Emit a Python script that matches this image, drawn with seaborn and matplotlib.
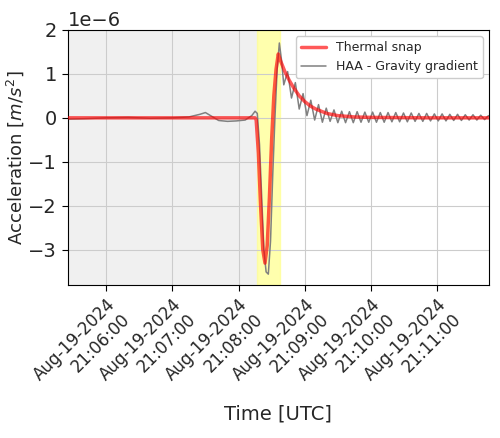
import pandas as pd
import matplotlib.pyplot as plt
import matplotlib.dates as mdates
import seaborn as sns

# seconds after 21:05:00 UTC, acceleration in units of 1e-6 m/s^2
snap_t = [25, 195, 196, 198, 200, 202, 204, 206, 208, 210, 212, 214, 216, 218, 222,
          226, 230, 235, 240, 245, 250, 260, 270, 285, 300, 350, 407]
snap_a = [0, 0, -0.05, -0.8, -2.0, -3.0, -3.3, -2.9, -1.8, -0.5, 0.5, 1.1, 1.45, 1.3, 1.05,
          0.85, 0.68, 0.5, 0.37, 0.27, 0.2, 0.1, 0.05, 0.02, 0.01, 0, 0]

haa_t = [25, 40, 60, 80, 100, 120, 135, 145, 150, 156, 162, 170, 178, 186, 192, 195, 197,
         199, 201, 203, 205, 207, 209, 211, 213, 215, 217, 219,
         221, 224.5, 228, 231.5, 235, 238.5, 242, 245.5, 249, 252.5, 256, 259.5, 263, 266.5,
         270, 273.5, 277, 280.5, 284, 287.5, 291, 294.5, 298, 301.5, 305, 308.5, 312, 315.5,
         319, 322.5, 326, 329.5, 333, 336.5, 340, 343.5, 347, 350.5, 354, 357.5, 361, 364.5,
         368, 371.5, 375, 378.5, 382, 385.5, 389, 392.5, 396, 399.5, 403, 406.5]
haa_a = [-0.03, -0.02, 0.0, 0.01, -0.01, 0.0, 0.02, 0.08, 0.12, 0.03, -0.06, -0.08, -0.07, -0.05, 0.05, 0.15, 0.1,
         -0.6, -1.8, -3.0, -3.5, -3.55, -2.8, -1.3, 0.0, 1.1, 1.7, 1.3,
         0.75, 1.05, 0.45, 0.8, 0.2, 0.55, 0.05, 0.4, -0.05, 0.3, -0.1, 0.22, -0.08, 0.18,
         -0.11, 0.15, -0.11, 0.14, -0.11, 0.14, -0.1, 0.13, -0.1, 0.13, -0.1, 0.12, -0.1, 0.12,
         -0.09, 0.12, -0.09, 0.11, -0.09, 0.11, -0.08, 0.1, -0.08, 0.1, -0.07, 0.09, -0.07, 0.09,
         -0.07, 0.08, -0.06, 0.08, -0.06, 0.07, -0.05, 0.07, -0.05, 0.06, -0.04, 0.05]

t0 = pd.Timestamp("2024-08-19 21:05:00")
snap = pd.DataFrame({"time": t0 + pd.to_timedelta(snap_t, unit="s"), "acc": [v * 1e-6 for v in snap_a]})
haa = pd.DataFrame({"time": t0 + pd.to_timedelta(haa_t, unit="s"), "acc": [v * 1e-6 for v in haa_a]})

sns.set_style("whitegrid")
plt.rcParams["font.family"] = ["DejaVu Sans"]

fig = plt.figure(figsize=(5, 4.38), dpi=100)
ax = fig.add_axes([0.135, 0.349, 0.843, 0.583])

left = t0 + pd.Timedelta(seconds=25)
right = t0 + pd.Timedelta(seconds=407)
ax.axvspan(left, t0 + pd.Timedelta(seconds=197), color="#f0f0f0", zorder=0)
ax.axvspan(t0 + pd.Timedelta(seconds=197), t0 + pd.Timedelta(seconds=217.5), color="#ffff99", alpha=0.8, zorder=0)

sns.lineplot(data=haa, x="time", y="acc", ax=ax, color="gray", lw=1.1, label="HAA - Gravity gradient", zorder=2)
sns.lineplot(data=snap, x="time", y="acc", ax=ax, color="red", lw=2.5, alpha=0.65, label="Thermal snap", zorder=3)

ax.set_xlim(left, right)
ax.set_ylim(-3.8e-6, 2e-6)
ax.xaxis.set_major_locator(mdates.MinuteLocator())
ax.xaxis.set_major_formatter(mdates.DateFormatter("%b-%d-%Y\n%H:%M:%S"))
plt.setp(ax.get_xticklabels(), rotation=45, ha="right", rotation_mode="anchor", fontsize=12)
ax.tick_params(axis="both", length=4, color="black", bottom=True, left=True)
ax.tick_params(axis="y", labelsize=14)
ax.yaxis.get_offset_text().set_fontsize(14)
ax.set_xlabel("Time [UTC]", fontsize=14)
ax.set_ylabel("Acceleration [$m/s^2$]", fontsize=13, labelpad=2)
for s in ax.spines.values():
    s.set_color("black")

h, l = ax.get_legend_handles_labels()
ax.legend(h[::-1], l[::-1], loc="upper right", fontsize=9, framealpha=1)

fig.savefig("out.png", dpi=100)
